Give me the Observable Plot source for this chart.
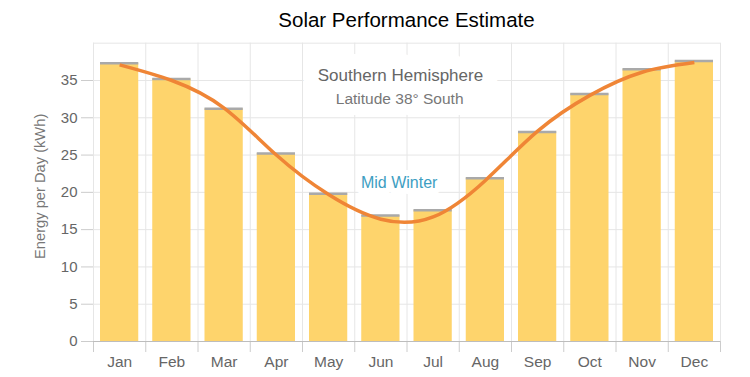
<!DOCTYPE html>
<html>
<head>
<meta charset="utf-8">
<script src="https://cdn.jsdelivr.net/npm/d3@7"></script>
<script src="https://cdn.jsdelivr.net/npm/@observablehq/plot@0.6"></script>
<style>
  html, body { margin: 0; padding: 0; background: #fff; }
  #title {
    box-sizing: border-box;
    width: 750px; height: 36px; line-height: 40px;
    padding-left: 93px; padding-right: 30px;
    text-align: center;
    font-family: "Liberation Sans", Arial, sans-serif;
    font-size: 20.5px; color: #000; white-space: nowrap;
  }
</style>
</head>
<body>
<div id="title">Solar Performance Estimate</div>
<div id="chart"></div>
<script>
// ---- data ----
const months = ["Jan","Feb","Mar","Apr","May","Jun","Jul","Aug","Sep","Oct","Nov","Dec"];
const barValues = [37.3, 35.2, 31.2, 25.2, 19.8, 16.9, 17.6, 21.9, 28.1, 33.2, 36.5, 37.6];
const curveValues = [37.1, 35.0, 31.3, 25.0, 19.7, 16.4, 16.7, 21.6, 28.2, 33.0, 36.1, 37.4];
const yTicks = [0, 5, 10, 15, 20, 25, 30, 35];
const yGrid = [0, 5, 10, 15, 20, 25, 30, 35, 40];
const yLabel = "Energy per Day (kWh)";
const noteTitle = "Southern Hemisphere";
const noteSub = "Latitude 38° South";
const noteWinter = "Mid Winter";

const bars = months.map((m, i) => ({i, month: m, value: barValues[i]}));
const curve = months.map((m, i) => ({c: i + 0.5, value: curveValues[i]}));
const boundaries = d3.range(months.length + 1);
const centers = months.map((m, i) => i + 0.5);

const font = "'Liberation Sans', Arial, sans-serif";

const chart = Plot.plot({
  width: 750,
  height: 341,
  marginLeft: 93,
  marginRight: 30,
  marginTop: 6.7,
  marginBottom: 36,
  style: {fontFamily: font, fontSize: "15px", color: "#666", background: "#fff"},
  x: {type: "linear", domain: [0, months.length], axis: null},
  y: {domain: [0, 40], axis: null},
  marks: [
    // grid
    Plot.ruleY(yGrid, {stroke: "#e6e6e6", strokeWidth: 1}),
    Plot.ruleX(boundaries, {stroke: "#e6e6e6", strokeWidth: 1}),
    // annotations (white halo hides grid behind)
    Plot.text([noteTitle], {x: 5.875, y: 35.7, fill: "#666", fontSize: 17, stroke: "white", strokeWidth: 30, strokeLinejoin: "round"}),
    Plot.text([noteSub], {x: 5.86, y: 32.45, fill: "#777", fontSize: 15.5, stroke: "white", strokeWidth: 22, strokeLinejoin: "round"}),
    Plot.text([noteWinter], {x: 5.85, y: 21.3, fill: "#3d9ec2", fontSize: 16, stroke: "white", strokeWidth: 12, strokeLinejoin: "round"}),
    // axes
    Plot.axisY(yTicks, {tickSize: 12, tickPadding: 4, stroke: "#ccc", fill: "#666", fontSize: 15, label: null}),
    Plot.axisX(boundaries, {tickSize: 11, tickFormat: () => "", stroke: "#ccc", label: null}),
    Plot.axisX(centers, {tickSize: 0, tickPadding: 14, tickFormat: (d) => months[Math.floor(d)], fill: "#666", fontSize: 15.5, label: null}),
    Plot.text([yLabel], {frameAnchor: "left", textAnchor: "middle", dx: -53, dy: -6, rotate: -90, fill: "#777", fontSize: 14.7}),
    // bars
    Plot.rectY(bars, {x: "i", interval: 1, y: "value", fill: "#fed46c", insetLeft: 7, insetRight: 7}),
    Plot.ruleY(bars, {y: "value", x1: "i", x2: (d) => d.i + 1, insetLeft: 7, insetRight: 7, stroke: "#a9a9a9", strokeWidth: 2.5}),
    // baseline
    Plot.ruleY([0], {stroke: "#bdbdbd", strokeWidth: 1.2}),
    // line
    Plot.line(curve, {x: "c", y: "value", curve: "natural", stroke: "#ef8536", strokeWidth: 3.5, strokeLinecap: "butt"})
  ]
});
document.getElementById("chart").appendChild(chart);
</script>
</body>
</html>
